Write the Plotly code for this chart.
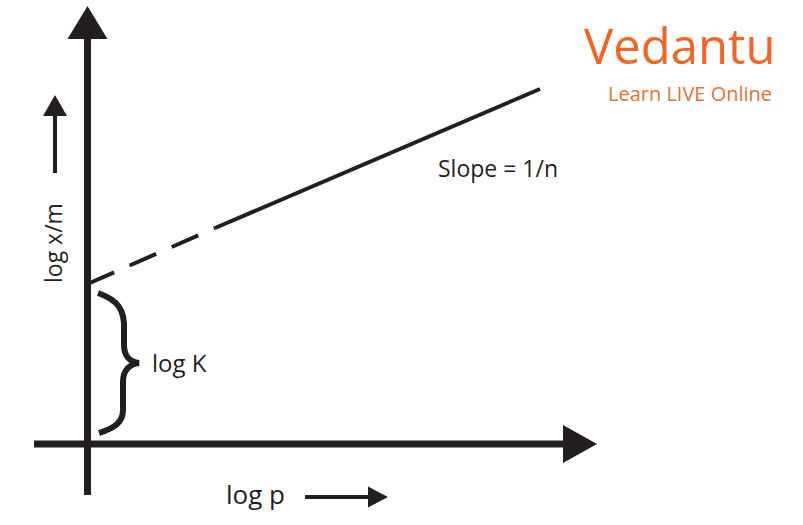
import plotly.graph_objects as go

# ---- data (schematic Freundlich isotherm: log x/m vs log p) ----
log_p_dashed = [0.0, 1.275]
log_xm_dashed = [1.60, 2.16]
log_p_solid = [1.275, 4.525]
log_xm_solid = [2.16, 3.55]

label_slope = "Slope = 1/n"
label_k = "log K"
label_x = "log p"
label_y = "log x/m"
brand = "Vedantu"
tagline = "Learn LIVE Online"

INK = "#231f20"
ORANGE = "#f26522"
FONT = "Open Sans"

fig = go.Figure()

# extrapolated (dashed) part and measured (solid) part of the line
fig.add_trace(go.Scatter(x=log_p_dashed, y=log_xm_dashed, mode="lines",
                         line=dict(color=INK, width=4, dash="29px,17px"),
                         hoverinfo="skip"))
fig.add_trace(go.Scatter(x=log_p_solid, y=log_xm_solid, mode="lines",
                         line=dict(color=INK, width=4),
                         hoverinfo="skip"))

shapes = []
# y axis shaft + arrowhead
shapes.append(dict(type="line", x0=0, x1=0, y0=-0.51, y1=4.06,
                   line=dict(color=INK, width=7)))
shapes.append(dict(type="path", path="M -0.2,4.05 L 0.2,4.05 L 0,4.38 Z",
                   fillcolor=INK, line=dict(color=INK, width=0)))
# x axis shaft + arrowhead
shapes.append(dict(type="line", x0=-0.535, x1=4.76, y0=0, y1=0,
                   line=dict(color=INK, width=7)))
shapes.append(dict(type="path", path="M 4.755,0.19 L 4.755,-0.19 L 5.095,0 Z",
                   fillcolor=INK, line=dict(color=INK, width=0)))
# small arrow beside y label
shapes.append(dict(type="line", x0=-0.325, x1=-0.325, y0=2.71, y1=3.29,
                   line=dict(color=INK, width=4)))
shapes.append(dict(type="path", path="M -0.445,3.28 L -0.205,3.28 L -0.325,3.49 Z",
                   fillcolor=INK, line=dict(color=INK, width=0)))
# small arrow beside x label
shapes.append(dict(type="line", x0=2.175, x1=2.81, y0=-0.53, y1=-0.53,
                   line=dict(color=INK, width=4)))
shapes.append(dict(type="path", path="M 2.805,-0.425 L 2.805,-0.635 L 3.005,-0.53 Z",
                   fillcolor=INK, line=dict(color=INK, width=0)))
# curly brace marking the intercept log K
brace = ("M 0.105,1.51 C 0.305,1.44 0.375,1.34 0.365,1.14 "
         "L 0.365,0.99 C 0.365,0.88 0.425,0.82 0.515,0.81 "
         "C 0.425,0.80 0.355,0.74 0.355,0.62 "
         "L 0.355,0.34 C 0.355,0.22 0.275,0.16 0.115,0.11")
shapes.append(dict(type="path", path=brace, line=dict(color=INK, width=6)))

annotations = [
    dict(x=4.10, y=2.76, text=label_slope, showarrow=False,
         font=dict(family=FONT, size=23, color=INK)),
    dict(x=0.915, y=0.82, text=label_k, showarrow=False,
         font=dict(family=FONT, size=24, color=INK)),
    dict(x=1.68, y=-0.50, text=label_x, showarrow=False,
         font=dict(family=FONT, size=26, color=INK)),
    dict(x=-0.345, y=2.01, text=label_y, showarrow=False, textangle=-90,
         font=dict(family=FONT, size=23, color=INK)),
    dict(x=5.925, y=3.99, text=brand, showarrow=False, borderpad=0,
         font=dict(family=FONT, size=49, color=ORANGE)),
    dict(x=6.025, y=3.51, text=tagline, showarrow=False, borderpad=0,
         font=dict(family=FONT, size=20, color="#eb6f2d")),
]

fig.update_layout(
    width=803, height=525, autosize=False,
    margin=dict(l=0, r=0, t=0, b=0),
    paper_bgcolor="white", plot_bgcolor="white",
    showlegend=False,
    xaxis=dict(range=[-0.875, 7.155], visible=False, fixedrange=True),
    yaxis=dict(range=[-0.81, 4.44], visible=False, fixedrange=True),
    shapes=shapes, annotations=annotations,
)

fig.write_html("out.html", config={"displayModeBar": False},
               post_script="document.body.style.margin='0';document.body.style.overflow='hidden';")
